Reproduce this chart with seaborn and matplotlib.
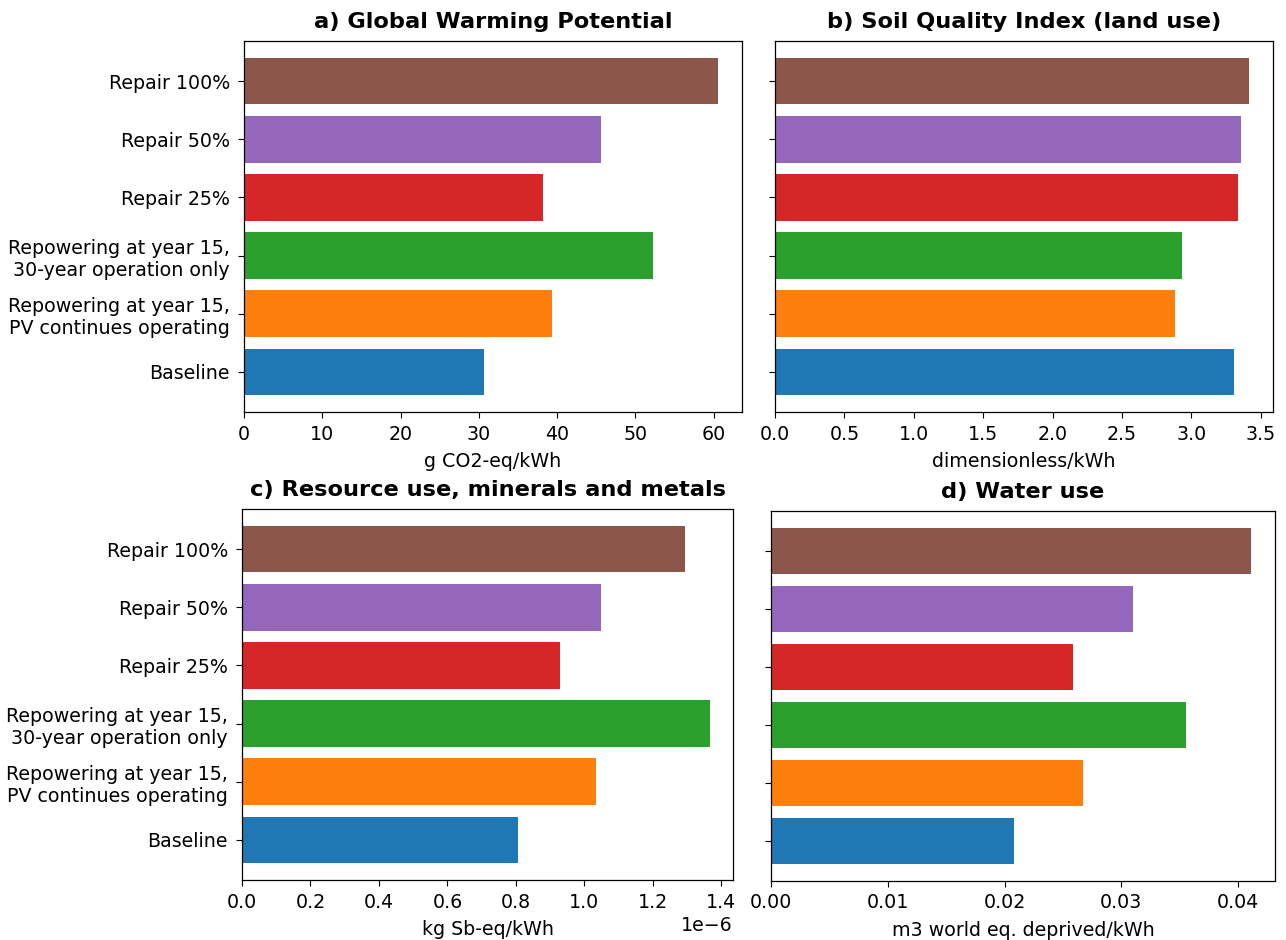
import pandas as pd
import matplotlib
matplotlib.use("Agg")
import matplotlib.pyplot as plt
from matplotlib.ticker import MultipleLocator
import seaborn as sns

# scenarios, bottom to top as in the figure
scenarios = [
    "Baseline",
    "Repowering at year 15,\nPV continues operating",
    "Repowering at year 15,\n30-year operation only",
    "Repair 25%",
    "Repair 50%",
    "Repair 100%",
]
colors = ["#1f77b4", "#ff7f0e", "#2ca02c", "#d62728", "#9467bd", "#8c564b"]

gwp = [30.7, 39.4, 52.3, 38.2, 45.6, 60.6]
soil = [3.31, 2.883, 2.936, 3.337, 3.361, 3.418]
minerals = [0.805e-6, 1.033e-6, 1.366e-6, 0.929e-6, 1.049e-6, 1.294e-6]
water = [0.0208, 0.0267, 0.0355, 0.0259, 0.0310, 0.0411]

titles = [
    "a) Global Warming Potential",
    "b) Soil Quality Index (land use)",
    "c) Resource use, minerals and metals",
    "d) Water use",
]
units = [
    "g CO2-eq/kWh",
    "dimensionless/kWh",
    "kg Sb-eq/kWh",
    "m3 world eq. deprived/kWh",
]
series = [gwp, soil, minerals, water]

# axes boxes in pixels (left, top, right, bottom) of a 1286x940 figure
W, H = 1286, 940
boxes = [
    (244, 41, 742, 412),
    (775, 41, 1273, 412),
    (242, 509, 733, 880),
    (771, 511, 1275, 881),
]

plt.rcParams["xtick.major.size"] = 4.5
plt.rcParams["ytick.major.size"] = 4.5
plt.rcParams["xtick.major.pad"] = 4.5
plt.rcParams["ytick.major.pad"] = 5.5
plt.rcParams["axes.linewidth"] = 0.9

fig, axes = plt.subplots(2, 2, figsize=(W / 100, H / 100), dpi=100)
palette = dict(zip(scenarios, colors))
order = scenarios[::-1]
n = len(scenarios)
pad = 0.05 * (n - 1 + 0.8)

for i, ax in enumerate(axes.flat):
    df = pd.DataFrame({"scenario": scenarios, "value": series[i]})
    sns.barplot(data=df, y="scenario", x="value", hue="scenario", order=order,
                hue_order=scenarios, palette=palette, saturation=1,
                width=0.8, orient="h", legend=False, ax=ax)
    ax.set_ylim(n - 1 + 0.4 + pad, -0.4 - pad)
    ax.set_xlim(0, max(series[i]) * 1.05)
    ax.set_title(titles[i], fontsize=16.2, fontweight="bold", pad=9.5)
    ax.set_xlabel(units[i], fontsize=13.7, labelpad=6)
    ax.set_ylabel("")
    ax.tick_params(labelsize=13.7)
    if i % 2 == 1:
        ax.tick_params(labelleft=False)
    l, t, r, b = boxes[i]
    ax.set_position([l / W, 1 - b / H, (r - l) / W, (b - t) / H])

axes[1, 1].xaxis.set_major_locator(MultipleLocator(0.01))
axes[1, 0].xaxis.get_offset_text().set_fontsize(13.7)

plt.savefig("out.png", dpi=100)
